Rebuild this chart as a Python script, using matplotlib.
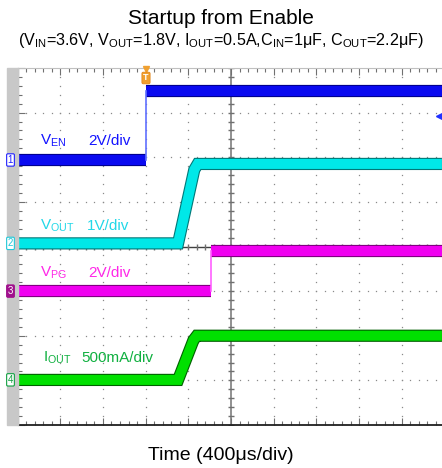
import matplotlib
matplotlib.use("Agg")
import matplotlib.pyplot as plt
import matplotlib.patheffects as pe
from matplotlib.patches import Rectangle
import numpy as np

plt.rcParams['font.family'] = ['Liberation Sans', 'DejaVu Sans']
plt.rcParams['mathtext.fontset'] = 'custom'
plt.rcParams['mathtext.rm'] = 'Liberation Sans'
plt.rcParams['mathtext.it'] = 'Liberation Sans'

# ---- data (scope divisions: x = time div, y = vertical div) ----
t_enable = -2.0
ven_levels = [1.94, 3.49]

vout_t = [-5.0, -1.24, -0.86, -0.78, 4.94]
vout_v = [0.07, 0.07, 1.72, 1.85, 1.85]

t_pg = -0.47
vpg_levels = [-1.0, -0.11]

iout_t = [-5.0, -1.24, -0.88, -0.8, 4.94]
iout_v = [-2.99, -2.99, -2.10, -2.0, -2.0]

channel_refs = [1.94, 0.07, -1.0, -2.99]   # ground markers 1..4

W, H = 442, 468
fig = plt.figure(figsize=(W / 100, H / 100), dpi=100)

px_left, px_right, px_top, px_bot = 17.5, 442, 68, 425
ax = fig.add_axes([px_left / W, 1 - px_bot / H, (px_right - px_left) / W, (px_bot - px_top) / H])
XMAX = (px_right - 231) / 42.7
ax.set_xlim(-5, XMAX)
ax.set_ylim(-4, 4)

# left grey strip
fig.patches.append(Rectangle((7 / W, 1 - px_bot / H), 10.5 / W, (px_bot - px_top) / H,
                             transform=fig.transFigure, color='#c8c8c8', zorder=0))

# ---- graticule ----
dot_c = '#8a8a8a'
fine = np.arange(-4, 4.01, 0.2)
finex = np.arange(-5, 5.01, 0.2)
for k in range(-4, 5):
    if k != 0:
        ax.plot(np.full_like(fine, k), fine, ls='none', marker='s', ms=0.9, color=dot_c, mew=0)
for k in range(-3, 4):
    if k != 0:
        ax.plot(finex, np.full_like(finex, k), ls='none', marker='s', ms=0.9, color=dot_c, mew=0)
ax.axvline(0, color='#909090', lw=1.4, zorder=1)
ax.axhline(0, color='#404040', lw=1.0, zorder=1)
ax.plot(np.zeros_like(fine), fine, ls='none', marker='_', ms=5, color='#707070', mew=1)
ax.plot(finex, np.zeros_like(finex), ls='none', marker='|', ms=5, color='#707070', mew=1)

ax.set_xticks(range(-5, 5))
ax.set_xticks(np.arange(-5, 5, 0.2), minor=True)
ax.set_yticks(range(-4, 5))
ax.set_yticks(np.arange(-4, 4.01, 0.2), minor=True)
ax.tick_params(which='both', direction='in', top=True, right=False,
               labelbottom=False, labelleft=False, color='#707070')
ax.tick_params(which='major', length=5, width=0.8)
ax.tick_params(which='minor', length=3, width=0.8)
ax.spines['right'].set_visible(False)
ax.spines['top'].set_color('#c0c0c0')
ax.spines['left'].set_color('#707070')
ax.spines['bottom'].set_color('#202020')
ax.spines['bottom'].set_linewidth(1.3)

# ---- traces ----
LW = 7.2

def band(x, y, col, dark, lw=LW):
    ax.plot(x, y, color=col, lw=lw, solid_capstyle='butt', solid_joinstyle='miter', zorder=3,
            path_effects=[pe.Stroke(linewidth=lw + 1.6, foreground=dark), pe.Normal()])

blue, cyan, mag, green = '#0a0af0', '#00e8e8', '#f000f0', '#00e000'

band([-5, t_enable], [ven_levels[0]] * 2, blue, '#000090')
band([t_enable, XMAX], [ven_levels[1]] * 2, blue, '#000090')
ax.plot([t_enable, t_enable], ven_levels, color='#6070ff', lw=1.2, zorder=3)

band(vout_t, vout_v, cyan, '#007878')

band([-5, t_pg], [vpg_levels[0]] * 2, mag, '#800080')
band([t_pg, XMAX], [vpg_levels[1]] * 2, mag, '#800080')
ax.plot([t_pg, t_pg], vpg_levels, color='#ff60ff', lw=1.2, zorder=3)

band(iout_t, iout_v, green, '#006000')

# ---- channel labels ----
lbl = dict(fontsize=11, va='baseline', ha='left', zorder=5)
ax.text(-4.47, 2.28, r'V$_{\mathregular{EN}}$', color='#1414ff', **lbl)
ax.text(-3.35, 2.28, '2V/div', color='#1414ff', **lbl)
ax.text(-4.47, 0.37, r'V$_{\mathregular{OUT}}$', color='#22d8e8', **lbl)
ax.text(-3.37, 0.37, '1V/div', color='#22d8e8', **lbl)
ax.text(-4.47, -0.68, r'V$_{\mathregular{PG}}$', color='#ff28e8', **lbl)
ax.text(-3.35, -0.68, '2V/div', color='#ff28e8', **lbl)
ax.text(-4.4, -2.59, r'I$_{\mathregular{OUT}}$', color='#10b040', **lbl)
ax.text(-3.51, -2.59, '500mA/div', color='#10b040', **lbl)

# ground reference markers on the strip
marker_style = [('1', '#2020ff', 'white', '#2020ff', 'round,pad=0.12'),
                ('2', '#20c8d8', 'white', '#20c8d8', 'round,pad=0.12'),
                ('3', '#a0108c', '#a0108c', 'white', 'round,pad=0.12'),
                ('4', '#10a040', 'white', '#10a040', 'round,pad=0.12')]
for ref, (num, ec, fc, tc, bs) in zip(channel_refs, marker_style):
    ypix = 246.5 - ref * 44.6
    fig.text(10.5 / W, 1 - ypix / H, num, fontsize=7, color=tc, ha='center', va='center',
             bbox=dict(boxstyle=bs, fc=fc, ec=ec, lw=0.8), zorder=6)

# trigger marker
fig.text(146 / W, 1 - 78 / H, 'T', fontsize=6.5, color='white', ha='center', va='center',
         fontweight='bold', bbox=dict(boxstyle='round,pad=0.15', fc='#f0a030', ec='#e08010', lw=0.5))
ax.plot([t_enable], [3.97], marker='v', ms=5, color='#f0a030', clip_on=False, zorder=6)
ax.plot([4.9], [2.93], marker='<', ms=6, color='#2030ff', clip_on=False, zorder=6)

# ---- titles ----
fig.text(0.5, 1 - 18 / H, 'Startup from Enable', fontsize=15, ha='center', va='center')
fig.text(0.5, 1 - 40 / H,
         r'(V$_{\mathregular{IN}}$=3.6V, V$_{\mathregular{OUT}}$=1.8V, I$_{\mathregular{OUT}}$=0.5A,'
         r'C$_{\mathregular{IN}}$=1μF, C$_{\mathregular{OUT}}$=2.2μF)',
         fontsize=11.6, ha='center', va='center')
fig.text(0.5, 1 - 455 / H, 'Time (400μs/div)', fontsize=14, ha='center', va='center')

fig.savefig('out.png', dpi=100)
